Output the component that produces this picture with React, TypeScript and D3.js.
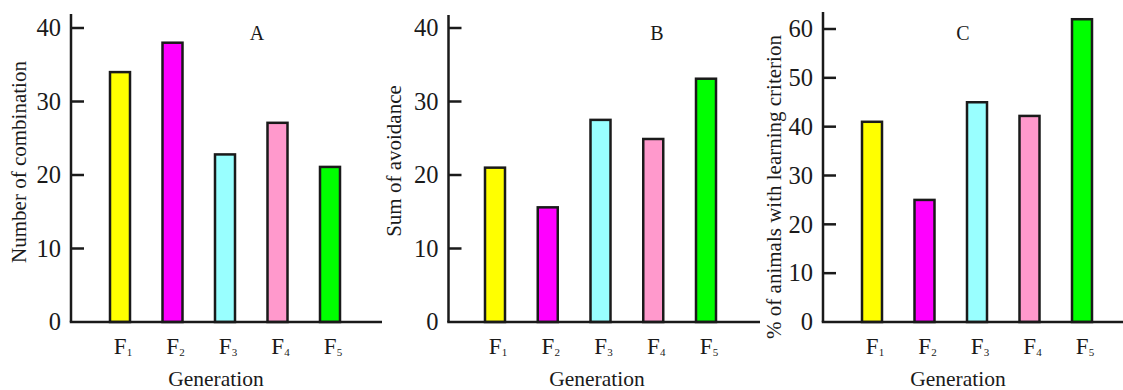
import React from "react";
import * as d3 from "d3";

const generations = ["1", "2", "3", "4", "5"];
const barColors = ["#ffff00", "#ff00ff", "#99ffff", "#ff99cc", "#00ff00"];
const combinationCounts = [34, 38, 22.8, 27.1, 21.1];
const avoidanceSums = [21, 15.6, 27.5, 24.9, 33.1];
const learningPercents = [41, 25, 45, 42.2, 62];
const ticksAB = [0, 10, 20, 30, 40];
const ticksC = [0, 10, 20, 30, 40, 50, 60];
const panelLetters = ["A", "B", "C"];
const yTitles = ["Number of combination", "Sum of avoidance", "% of animals with learning criterion"];
const xTitle = "Generation";

const FONT = "'Liberation Serif', 'Times New Roman', serif";
const INK = "#1a1a1a";

type PanelCfg = {
  values: number[];
  ticks: number[];
  max: number;
  maxY: number;
  axisX: number;
  axisTop: number;
  axisRight: number;
  x0: number;
  x1: number;
  letter: string;
  letterX: number;
  yTitle: string;
  yTitleX: number;
  yTitleY: number;
  xTitleX: number;
};

const panels: PanelCfg[] = [
  { values: combinationCounts, ticks: ticksAB, max: 40, maxY: 28, axisX: 71, axisTop: 14, axisRight: 382, x0: 120, x1: 330, letter: panelLetters[0], letterX: 257, yTitle: yTitles[0], yTitleX: 26, yTitleY: 162, xTitleX: 216 },
  { values: avoidanceSums, ticks: ticksAB, max: 40, maxY: 28, axisX: 448.5, axisTop: 15, axisRight: 760, x0: 495, x1: 706, letter: panelLetters[1], letterX: 657, yTitle: yTitles[1], yTitleX: 401, yTitleY: 161, xTitleX: 597 },
  { values: learningPercents, ticks: ticksC, max: 60, maxY: 29, axisX: 823, axisTop: 12, axisRight: 1123, x0: 872, x1: 1082, letter: panelLetters[2], letterX: 963, yTitle: yTitles[2], yTitleX: 781, yTitleY: 187, xTitleX: 958 },
];

const BASE_Y = 322;
const BAR_W = 20;

function Panel({ p }: { p: PanelCfg }) {
  const y = d3.scaleLinear().domain([0, p.max]).range([BASE_Y, p.maxY]);
  const x = d3.scalePoint<string>().domain(generations).range([p.x0, p.x1]);
  return (
    <g>
      {p.values.map((v, i) => (
        <rect
          key={i}
          x={(x(generations[i]) as number) - BAR_W / 2}
          y={y(v)}
          width={BAR_W}
          height={BASE_Y - y(v)}
          fill={barColors[i]}
          stroke={INK}
          strokeWidth={2.5}
        />
      ))}
      <line x1={p.axisX} x2={p.axisX} y1={p.axisTop} y2={BASE_Y} stroke={INK} strokeWidth={2.5} />
      <line x1={p.axisX - 1.25} x2={p.axisRight} y1={BASE_Y} y2={BASE_Y} stroke={INK} strokeWidth={2.5} />
      {p.ticks.map((t) => (
        <g key={t}>
          {t > 0 && <line x1={p.axisX} x2={p.axisX + 13} y1={y(t)} y2={y(t)} stroke={INK} strokeWidth={2.5} />}
          <text x={p.axisX - 10} y={y(t)} dy="0.34em" textAnchor="end" fontSize={24.5} fontFamily={FONT} fill={INK}>
            {t}
          </text>
        </g>
      ))}
      {generations.map((g) => (
        <text key={g} x={(x(g) as number) + 3} y={354} textAnchor="middle" fontFamily={FONT} fill={INK} fontSize={23}>
          F<tspan fontSize={11} dy={2}>{g}</tspan>
        </text>
      ))}
      <text x={p.letterX} y={40} textAnchor="middle" fontFamily={FONT} fontSize={20} fill={INK}>
        {p.letter}
      </text>
      <text
        transform={`translate(${p.yTitleX},${p.yTitleY}) rotate(-90)`}
        textAnchor="middle"
        fontFamily={FONT}
        fontSize={21}
        fill={INK}
      >
        {p.yTitle}
      </text>
      <text x={p.xTitleX} y={386} textAnchor="middle" fontFamily={FONT} fontSize={21.5} fill={INK}>
        {xTitle}
      </text>
    </g>
  );
}

export default function App() {
  return (
    <svg
      width={1123}
      height={390}
      style={{ position: "absolute", left: 0, top: 0, display: "block", background: "#fff" }}
    >
      {panels.map((p, i) => (
        <Panel key={i} p={p} />
      ))}
    </svg>
  );
}
